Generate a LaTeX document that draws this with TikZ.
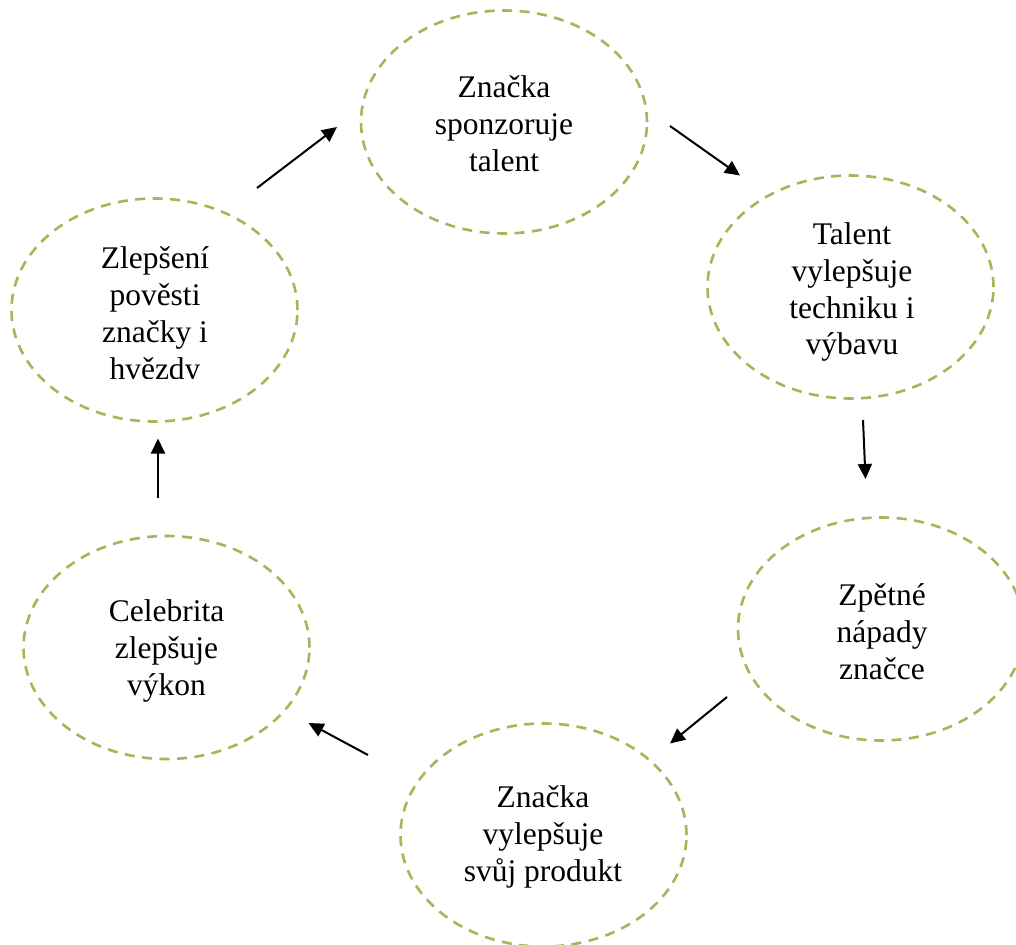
\documentclass[tikz,border=0pt]{standalone}
\usepackage{fontspec}
\setmainfont{Liberation Serif}
\usetikzlibrary{shapes.geometric,arrows.meta}
\definecolor{ovalgreen}{HTML}{9BBB59}
\begin{document}
\begin{tikzpicture}[x=1pt,y=-1pt,
  oval/.style={ellipse,draw=ovalgreen,line width=2.6pt,dash pattern=on 10pt off 7.5pt,
    minimum width=286pt,minimum height=223pt,inner sep=0pt},
  txt/.style={anchor=north,align=center,inner sep=0pt,
    font=\fontsize{31.5}{36.8}\selectfont},
  flow/.style={line width=2pt,-{Triangle[length=15pt,width=14pt]}}]
\useasboundingbox (0,0) rectangle (1016,944);
\fill[white] (0,0) rectangle (1016,944);

% ovals
\node[oval] (e1) at (504,122) {};
\node[oval] (e2) at (850.5,287) {};
\node[oval] (e3) at (881,629) {};
\node[oval] (e4) at (543.5,835) {};
\node[oval] (e5) at (166.5,647.5) {};
\node[oval] (e6) at (154.5,310) {};

% texts
\node[txt] (t1) at (504,75.5) {Značka\\sponzoruje\\talent};
\node[txt] (t2) at (852,222.5) {Talent\\vylepšuje\\techniku i\\výbavu};
\node[txt] (t3) at (882,583.5) {Zpětné\\nápady\\značce};
\node[txt] (t4) at (543,785.5) {Značka\\vylepšuje\\svůj produkt};
\node[txt] (t5) at (166.5,599.5) {Celebrita\\zlepšuje\\výkon};
\begin{scope}
\clip (0,0) rectangle (1016,378);
\node[txt] (t6) at (155,246.5) {Zlepšení\\pověsti\\značky i\\hvězdy};
\end{scope}

% arrow end points
\coordinate (a1s) at (257,188);  \coordinate (a1e) at (337,127);
\coordinate (a2s) at (670,126);  \coordinate (a2e) at (740,175.5);
\coordinate (a3s) at (863,420);  \coordinate (a3e) at (865.5,479);
\coordinate (a4s) at (727,697);  \coordinate (a4e) at (670,743.5);
\coordinate (a5s) at (368,755);  \coordinate (a5e) at (308.5,723);
\coordinate (a6s) at (158,498);  \coordinate (a6e) at (158,438.5);

\draw[flow] (a1s) -- (a1e);
\draw[flow] (a2s) -- (a2e);
\draw[flow] (a3s) -- (a3e);
\draw[flow] (a4s) -- (a4e);
\draw[flow] (a5s) -- (a5e);
\draw[flow] (a6s) -- (a6e);
\end{tikzpicture}
\end{document}
